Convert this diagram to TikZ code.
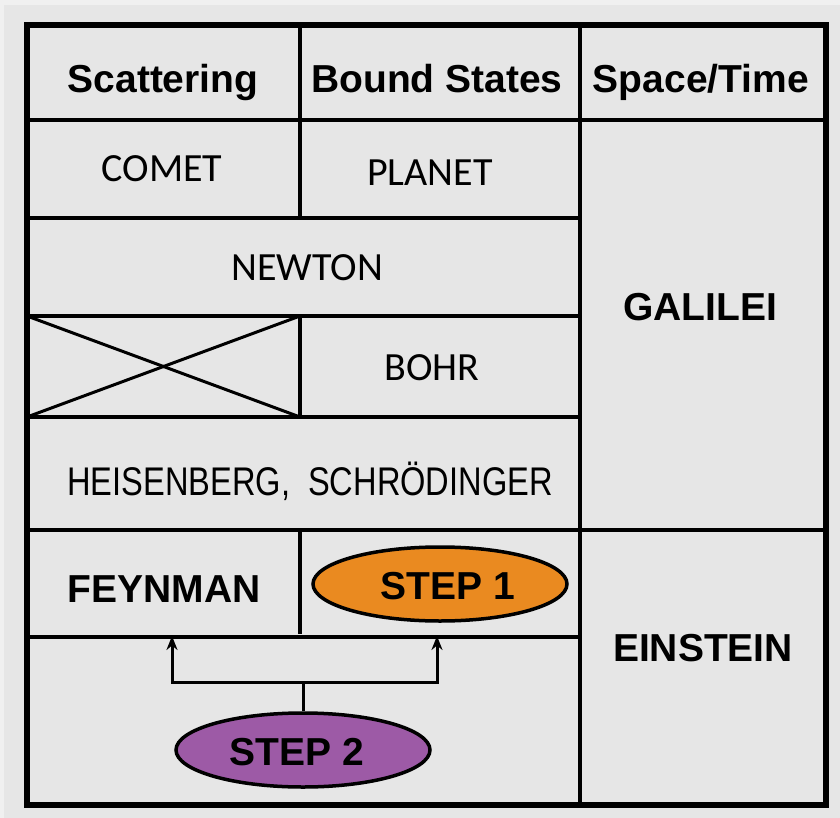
\documentclass[tikz,border=0pt]{standalone}
\usepackage{fontspec}
\usepackage{graphicx}
\setmainfont{Liberation Sans}
\newfontfamily\calib{Carlito}
\usetikzlibrary{shapes.geometric,arrows.meta}

\definecolor{pagebg}{RGB}{230,230,230}
\definecolor{pageedge}{RGB}{240,240,240}
\definecolor{stepone}{RGB}{234,138,32}
\definecolor{steptwo}{RGB}{157,90,166}

\tikzset{
  frame/.style={line width=5.5pt, line cap=rect},
  grid/.style={line width=3.8pt, line cap=rect},
  cross/.style={line width=3pt},
  bold/.style={font=\fontsize{39}{40}\selectfont\bfseries, inner sep=0pt, anchor=base},
  light/.style={font=\calib\fontsize{40}{40}\selectfont, inner sep=0pt, anchor=base},
  stepbox/.style={ellipse, draw, line width=3.5pt, minimum width=254pt, minimum height=74pt, inner sep=0pt},
  link/.style={line width=3pt},
  linkarrow/.style={line width=3pt, -{Stealth[length=14pt,width=11pt]}}
}

\begin{document}
\begin{tikzpicture}[x=1pt,y=-1pt]
  % page
  \fill[pageedge] (0,0) rectangle (840,818);
  \fill[pagebg] (4,5) rectangle (840,818);
  \useasboundingbox (0,0) rectangle (840,818);

  % horizontal rules
  \draw[grid] (27,120) -- (826,120);
  \draw[grid] (27,218) -- (580,218);
  \draw[grid] (27,316) -- (580,316);
  \draw[grid] (27,417) -- (580,417);
  \draw[grid] (27,530) -- (826,530);
  \draw[grid] (27,637) -- (580,637);

  % vertical rules
  \draw[grid] (300,30) -- (300,218);
  \draw[grid] (300,316) -- (300,417);
  \draw[grid] (300,530) -- (300,632);
  \draw[grid] (580,30) -- (580,805);

  % crossed-out cell
  \draw[cross] (27,316) -- (300,417);
  \draw[cross] (27,417) -- (300,316);

  % outer frame
  \draw[frame] (27,25) rectangle (826,805);

  % header row
  \node[bold] (hscat) at (163,93) {Scattering};
  \node[bold] (hbound) at (437,93) {Bound States};
  \node[bold] (hspace) at (701,93) {Space/Time};

  % table entries
  \node[light] (comet) at (162,182) {COMET};
  \node[light] (planet) at (430,186) {PLANET};
  \node[light] (newton) at (307,280) {NEWTON};
  \node[light] (bohr) at (432,380) {BOHR};
  \node[inner sep=0pt, anchor=base, font=\fontsize{40}{40}\selectfont] (heis) at (310,495)
    {\scalebox{0.815}[1]{HEISENBERG,\ \ SCHRÖDINGER}};
  \node[bold] (galilei) at (700,320) {GALILEI};
  \node[bold] (feynman) at (164,602) {FEYNMAN};
  \node[bold] (einstein) at (703,661) {EINSTEIN};

  % steps
  \node[stepbox, fill=stepone] (s1) at (440,584) {};
  \node[bold] (s1text) at (448,599) {STEP 1};
  \node[stepbox, fill=steptwo] (s2) at (303,750) {};
  \node[bold] (s2text) at (297,765) {STEP 2};

  % connector from step 2 to both upper cells
  \coordinate (split) at (303,682);
  \coordinate (toscat) at (172,636);
  \coordinate (tobound) at (437,636);
  \draw[link] (s2.north) -- (split);
  \draw[linkarrow] (split) -| (toscat);
  \draw[linkarrow] (split) -| (tobound);
\end{tikzpicture}
\end{document}
